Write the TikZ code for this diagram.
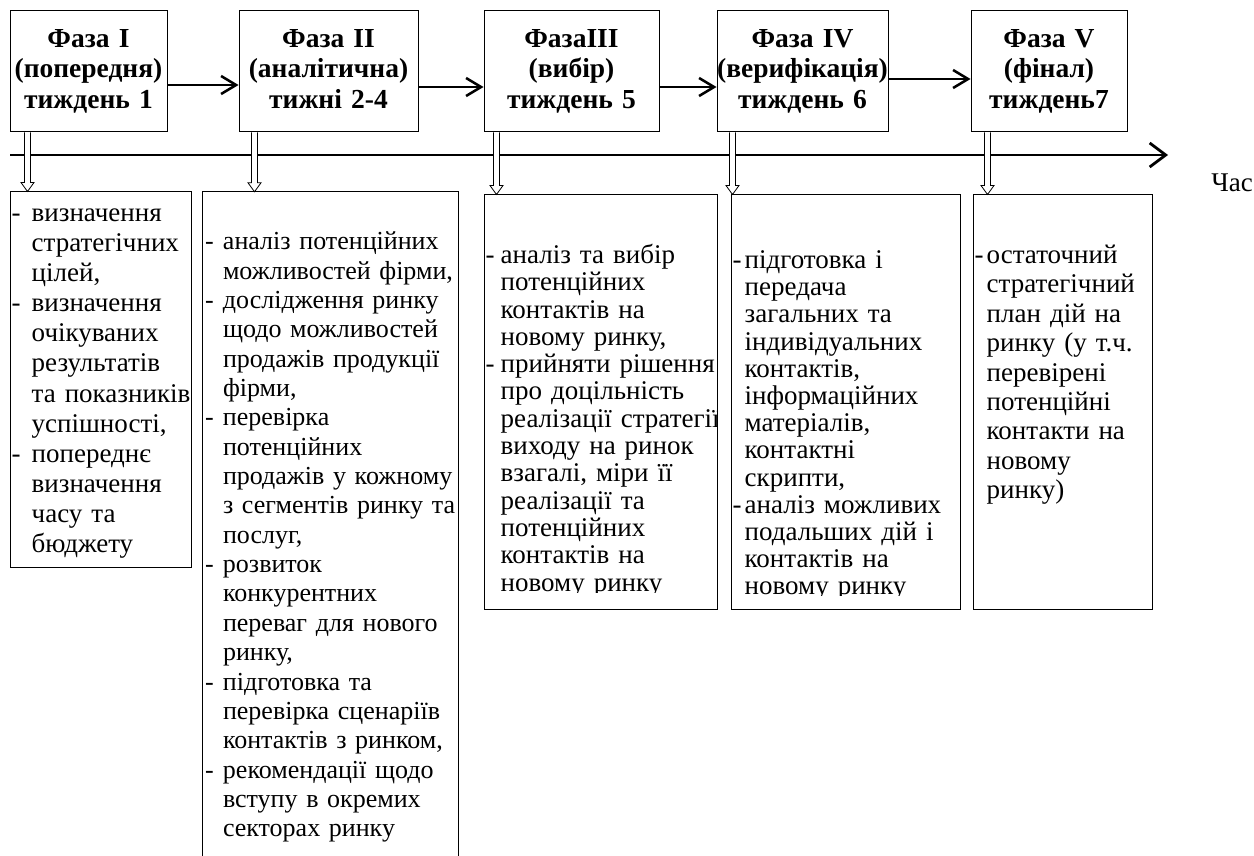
\documentclass[tikz,border=0pt]{standalone}
\usepackage{fontspec}
\setmainfont{Liberation Serif}
\usetikzlibrary{arrows.meta,calc}
\begin{document}
\begin{tikzpicture}[x=1pt,y=-1pt,
  phase/.style={draw, line width=1pt, minimum height=121pt, align=center, inner sep=0pt,
    font=\fontsize{27.5}{30.5}\selectfont\bfseries},
  lbox/.style={draw, line width=1pt, inner sep=0pt},
  ltext/.style={anchor=base west, align=left, inner sep=0pt, text width=300pt,
    font=\fontsize{27}{29.4}\selectfont},
  harrow/.style={line width=2.5pt, -{Straight Barb[length=15pt,width=18pt]}},
  tarrow/.style={line width=2.8pt, -{Straight Barb[length=16pt,width=24pt]}},
  hollowarrow/.style={draw, fill=white, line width=0.8pt},
  hollow/.style={to path={let \p1=(\tikztostart), \p2=(\tikztotarget) in
    (\x1-3pt,\y1) -- (\x1-3pt,\y2+9pt) -- (\x1-6.5pt,\y2+9pt) -- (\x1,\y2)
    -- (\x1+6.5pt,\y2+9pt) -- (\x1+3pt,\y2+9pt) -- (\x1+3pt,\y1)}}
]
\useasboundingbox (0,0) rectangle (1254,856);
\fill[white] (0,0) rectangle (1254,856);

% top phase boxes
\node[phase, text width=157pt] (t1) at (88.5,71.5) {\strut Фаза I\\(попередня)\\тиждень 1\strut};
\node[phase, text width=179pt] (t2) at (328.5,71.5) {\strut Фаза II\\(аналітична)\\тижні 2-4\strut};
\node[phase, text width=175pt] (t3) at (571.5,71.5) {\strut ФазаIII\\(вибір)\\тиждень 5\strut};
\node[phase, text width=171pt] (t4) at (802.5,71.5) {\strut Фаза IV\\(верифікація)\\тиждень 6\strut};
\node[phase, text width=156pt] (t5) at (1049,71.5) {\strut Фаза V\\(фінал)\\тиждень7\strut};

% arrows between phases
\draw[harrow] ([yshift=-13.5pt]t1.east) -- ([yshift=-13.5pt]t2.west);
\draw[harrow] ([yshift=-15.5pt]t2.east) -- ([yshift=-15.5pt]t3.west);
\draw[harrow] ([yshift=-15.5pt]t3.east) -- ([yshift=-15.5pt]t4.west);
\draw[harrow] ([yshift=-7.5pt]t4.east) -- ([yshift=-7.5pt]t5.west);

% time line
\coordinate (tl0) at (10,155);
\coordinate (tl1) at (1168,155);
\draw[tarrow] (tl0) -- (tl1);
\node[font=\fontsize{27}{30}\selectfont, inner sep=0pt] (time) at (1232,183) {Час};

% lower boxes
\node[lbox, minimum width=181pt, minimum height=375pt] (l1) at (100.5,379.5) {};
\node[inner sep=0pt, minimum width=255pt, minimum height=664pt] (l2) at (330.5,524) {};
\draw[line width=1pt] (l2.south west) -- (l2.north west) -- (l2.north east) -- (l2.south east);
\node[lbox, minimum width=233pt, minimum height=414pt] (l3) at (600.5,402) {};
\node[lbox, minimum width=229pt, minimum height=414pt] (l4) at (845.5,402) {};
\node[lbox, minimum width=179pt, minimum height=414pt] (l5) at (1062.5,402) {};

% hollow double arrows from phases to their tasks
\draw[hollowarrow] ([xshift=18pt]t1.south west) to[hollow] ([xshift=18pt]t1.south west |- l1.north);
\draw[hollowarrow] ([xshift=16pt]t2.south west) to[hollow] ([xshift=16pt]t2.south west |- l2.north);
\draw[hollowarrow] ([xshift=13pt]t3.south west) to[hollow] ([xshift=13pt]t3.south west |- l3.north);
\draw[hollowarrow] ([xshift=16pt]t4.south west) to[hollow] ([xshift=16pt]t4.south west |- l4.north);
\draw[hollowarrow] ([xshift=17pt]t5.south west) to[hollow] ([xshift=17pt]t5.south west |- l5.north);

% texts
\node[ltext, font=\fontsize{27}{30.1}\selectfont] (l1t) at ([xshift=2pt,yshift=-30pt]l1.north west) {\def\D{\makebox[20pt][l]{-}}\def\I{\hspace*{20pt}}%
\D визначення\\ \I стратегічних\\ \I цілей,\\ \D визначення\\ \I очікуваних\\ \I результатів\\ \I та показників\\ \I успішності,\\ \D попереднє\\ \I визначення\\ \I часу та\\ \I бюджету};

\node[ltext, font=\fontsize{26}{29.35}\selectfont] (l2t) at ([xshift=2pt,yshift=-58pt]l2.north west) {\def\D{\makebox[18pt][l]{-}}\def\I{\hspace*{18pt}}%
\D аналіз потенційних\\ \I можливостей фірми,\\ \D дослідження ринку\\ \I щодо можливостей\\ \I продажів продукції\\ \I фірми,\\ \D перевірка\\ \I потенційних\\ \I продажів у кожному\\ \I з сегментів ринку та\\ \I послуг,\\ \D розвиток\\ \I конкурентних\\ \I переваг для нового\\ \I ринку,\\ \D підготовка та\\ \I перевірка сценаріїв\\ \I контактів з ринком,\\ \D рекомендації щодо\\ \I вступу в окремих\\ \I секторах ринку};

\begin{scope}
\clip (l3.north west) rectangle ([yshift=17pt]l3.south east);
\node[ltext, font=\fontsize{27}{27.3}\selectfont] (l3t) at ([xshift=2pt,yshift=-69pt]l3.north west) {\def\D{\makebox[15pt][l]{-}}\def\I{\hspace*{15pt}}%
\D аналіз та вибір\\ \I потенційних\\ \I контактів на\\ \I новому ринку,\\ \D прийняти рішення\\ \I про доцільність\\ \I реалізації стратегії\\ \I виходу на ринок\\ \I взагалі, міри її\\ \I реалізації та\\ \I потенційних\\ \I контактів на\\ \I новому ринку};
\end{scope}

\begin{scope}
\clip (l4.north west) rectangle ([yshift=14pt]l4.south east);
\node[ltext, font=\fontsize{27}{27.2}\selectfont] (l4t) at ([xshift=2pt,yshift=-74pt]l4.north west) {\def\D{\makebox[12pt][l]{-}}\def\I{\hspace*{12pt}}%
\D підготовка і\\ \I передача\\ \I загальних та\\ \I індивідуальних\\ \I контактів,\\ \I інформаційних\\ \I матеріалів,\\ \I контактні\\ \I скрипти,\\ \D аналіз можливих\\ \I подальших дій і\\ \I контактів на\\ \I новому ринку};
\end{scope}

\node[ltext] (l5t) at ([xshift=2pt,yshift=-69pt]l5.north west) {\def\D{\makebox[12pt][l]{-}}\def\I{\hspace*{12pt}}%
\D остаточний\\ \I стратегічний\\ \I план дій на\\ \I ринку (у т.ч.\\ \I перевірені\\ \I потенційні\\ \I контакти на\\ \I новому\\ \I ринку)};
\end{tikzpicture}
\end{document}
